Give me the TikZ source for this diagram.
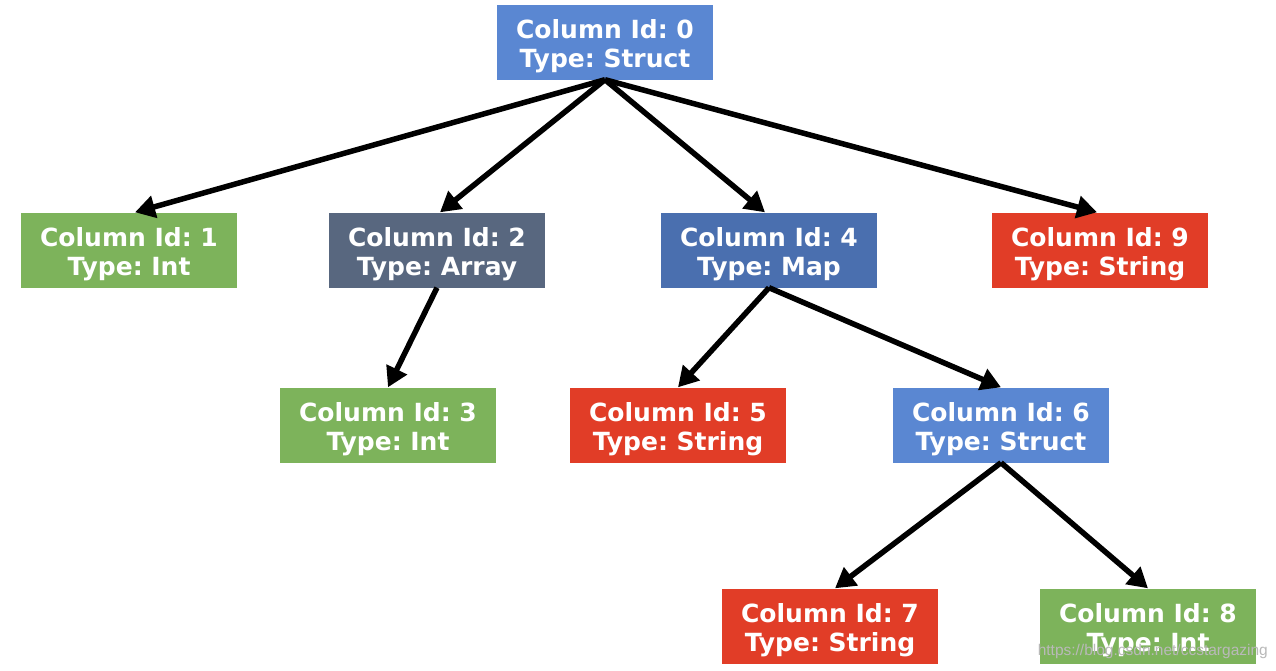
\documentclass[tikz,border=0pt]{standalone}
\usepackage{fontspec}
\setmainfont{DejaVu Sans}
\newfontfamily\wmfont{Liberation Sans}
\usetikzlibrary{arrows.meta}
\definecolor{cblue}{HTML}{5A87D2}
\definecolor{cdblue}{HTML}{4A6FAF}
\definecolor{cslate}{HTML}{58677F}
\definecolor{cgreen}{HTML}{7DB35B}
\definecolor{cred}{HTML}{E13D27}
\newcommand\toplift{\rule{0pt}{28pt}}
\tikzset{
  box/.style={rectangle, minimum width=216pt, minimum height=75pt, inner sep=0pt,
    align=center, text=white, font=\fontsize{25}{29}\selectfont\bfseries\frenchspacing},
  link/.style={line width=5.5pt, black, -{Triangle[length=20pt,width=22pt]}},
}
\begin{document}
\begin{tikzpicture}[x=1pt,y=-1pt]
\useasboundingbox[fill=white] (0,0) rectangle (1276,670);
\node[box, fill=cblue]  (n0) at (605,42)  {\toplift Column Id: 0\\Type: Struct};
\node[box, fill=cgreen] (n1) at (129,250) {\toplift Column Id: 1\\Type: Int};
\node[box, fill=cslate] (n2) at (437,250) {\toplift Column Id: 2\\Type: Array};
\node[box, fill=cdblue] (n4) at (769,250) {\toplift Column Id: 4\\Type: Map};
\node[box, fill=cred]   (n9) at (1100,250) {\toplift Column Id: 9\\Type: String};
\node[box, fill=cgreen] (n3) at (388,425) {\toplift Column Id: 3\\Type: Int};
\node[box, fill=cred]   (n5) at (678,425) {\toplift Column Id: 5\\Type: String};
\node[box, fill=cblue]  (n6) at (1001,425) {\toplift Column Id: 6\\Type: Struct};
\node[box, fill=cred]   (n7) at (830,626) {\toplift Column Id: 7\\Type: String};
\node[box, fill=cgreen] (n8) at (1148,626) {\toplift Column Id: 8\\Type: Int};
\draw[link] (n0.south) -- ([xshift=6pt]n1.north);
\draw[link] (n0.south) -- ([xshift=3pt]n2.north);
\draw[link] (n0.south) -- ([xshift=-4pt]n4.north);
\draw[link] (n0.south) -- ([xshift=-3pt]n9.north);
\draw[link] (n2.south) -- (n3.north);
\draw[link] (n4.south) -- (n5.north);
\draw[link] (n4.south) -- (n6.north);
\draw[link] (n6.south) -- ([xshift=5pt]n7.north);
\draw[link] (n6.south) -- (n8.north);
\node[anchor=east, text=gray!55, font=\wmfont\fontsize{15.5}{15.5}\selectfont, inner sep=0pt] (wm) at (1268,651) {https://blog.csdn.net/ccstargazing};
\end{tikzpicture}
\end{document}
